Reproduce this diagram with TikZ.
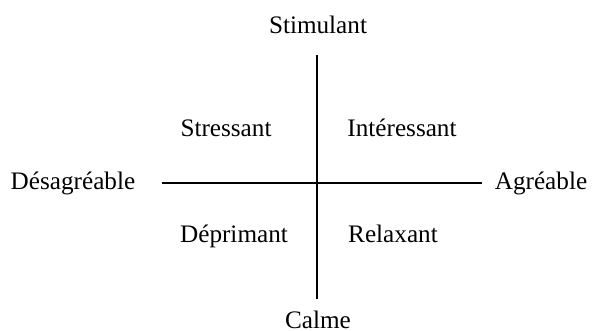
\documentclass[tikz,border=0pt]{standalone}
\usepackage{fontspec}
\setmainfont{Liberation Serif}
\begin{document}
\begin{tikzpicture}[x=0.5pt,y=-0.5pt,
  lbl/.style={font=\fontsize{12.6}{14}\selectfont, inner sep=0pt, anchor=base},
  axis/.style={line width=0.6pt}]
\useasboundingbox (0,0) rectangle (598,331);
\node[lbl] (stim) at (318,34) {Stimulant};
\node[lbl] (calme) at (318,328) {Calme};
\node[lbl] (desag) at (73,190) {Désagréable};
\node[lbl] (agr) at (541,190) {Agréable};
\node[lbl] (stress) at (226,137) {Stressant};
\node[lbl] (inter) at (402,137) {Intéressant};
\node[lbl] (depr) at (234,242) {Déprimant};
\node[lbl] (relax) at (393,242) {Relaxant};
\coordinate (top) at (317,55);
\coordinate (bot) at (317,299);
\coordinate (left) at (162,183);
\coordinate (right) at (482,183);
\draw[axis] (top) -- (bot);
\draw[axis] (left) -- (right);
\end{tikzpicture}
\end{document}
